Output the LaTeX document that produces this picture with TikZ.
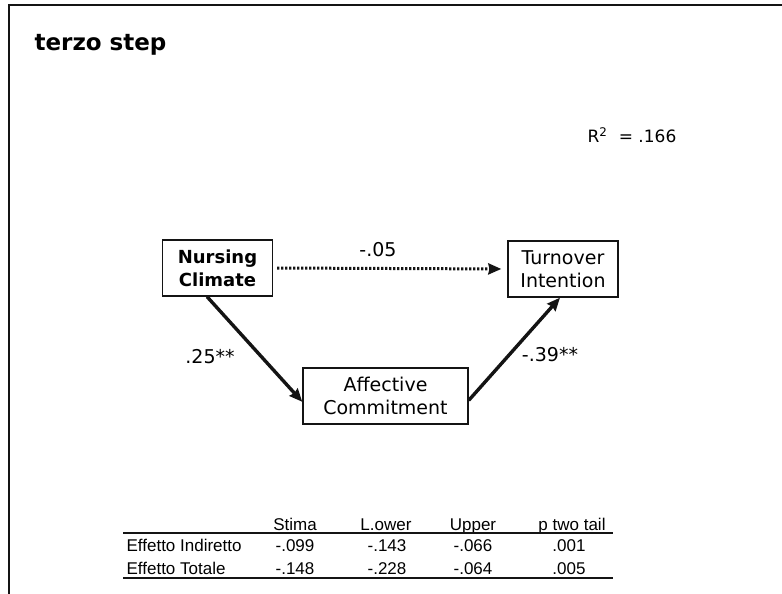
\documentclass[tikz,border=0pt]{standalone}
\usepackage{fontspec}
\setmainfont{DejaVu Sans}
\newfontfamily\tablefont{Liberation Sans}
\usetikzlibrary{arrows.meta}
\definecolor{line_black}{RGB}{20,20,20}

\begin{document}
\begin{tikzpicture}[x=0.5pt,y=-0.5pt,semithick,>={Stealth[length=6.5pt,width=5.5pt,inset=0.6pt]}]
    \tikzstyle{var}=[draw=line_black, line width=0.7pt, rectangle, minimum width=55pt, minimum height=28pt, inner sep=1pt, align=center, font=\fontsize{9.5}{11.5}\selectfont]
    \tikzstyle{coef}=[font=\fontsize{9.5}{11}\selectfont, inner sep=0pt]
    \tikzstyle{path}=[->, draw=line_black, line width=1.7pt]
    \tikzstyle{cell}=[anchor=base, inner sep=0pt, font=\tablefont\fontsize{8.5}{9}\selectfont]
    \tikzstyle{rule}=[draw=line_black, line width=1pt]

    \useasboundingbox (0,0) rectangle (782,594);
    \draw[line_black, line width=1pt] (9,594) -- (9,5) -- (782,5);

    \node[anchor=base west, inner sep=0pt, font=\bfseries\fontsize{11.5}{13}\selectfont] (title) at (34,50) {terzo step};
    \node[coef, font=\fontsize{8.5}{10}\selectfont] (rsq) at (632,135) {R\textsuperscript{2} \ = .166};

    \node[var, font=\bfseries\fontsize{9}{11.5}\selectfont] (nc) at (217.5,268) {Nursing\\Climate};
    \node[var] (ti) at (563,269) {Turnover\\Intention};
    \node[var, minimum width=82.5pt] (ac) at (385.5,396) {Affective\\Commitment};

    \path
     (nc.east) edge[path, line width=1.5pt, dash pattern=on 1.1pt off 0.9pt, shorten <=2pt, shorten >=3pt] (ti.west)
     (nc.250)  edge[path] (ac.184)
     (ac.-3)   edge[path] (ti.264)
     ;

    \node[coef] (c_direct) at (378,250) {-.05};
    \node[coef] (c_a) at (210,357) {.25**};
    \node[coef] (c_b) at (550,355) {-.39**};

    % tabella effetti
    \node[cell] (h1) at (295,530) {Stima};
    \node[cell] (h2) at (386,530) {L.ower};
    \node[cell] (h3) at (473,530) {Upper};
    \node[cell] (h4) at (572,530) {p two tail};
    \draw[rule] (123,532.5) -- (613,532.5);
    \node[cell, anchor=base west] (r1) at (126,551.5) {Effetto Indiretto};
    \node[cell] (r1c1) at (295,551.5) {-.099};
    \node[cell] (r1c2) at (387,551.5) {-.143};
    \node[cell] (r1c3) at (473,551.5) {-.066};
    \node[cell] (r1c4) at (569,551.5) {.001};
    \node[cell, anchor=base west] (r2) at (126,574) {Effetto Totale};
    \node[cell] (r2c1) at (295,574) {-.148};
    \node[cell] (r2c2) at (387,574) {-.228};
    \node[cell] (r2c3) at (473,574) {-.064};
    \node[cell] (r2c4) at (569,574) {.005};
    \draw[rule] (123,578) -- (613,578);
\end{tikzpicture}
\end{document}
